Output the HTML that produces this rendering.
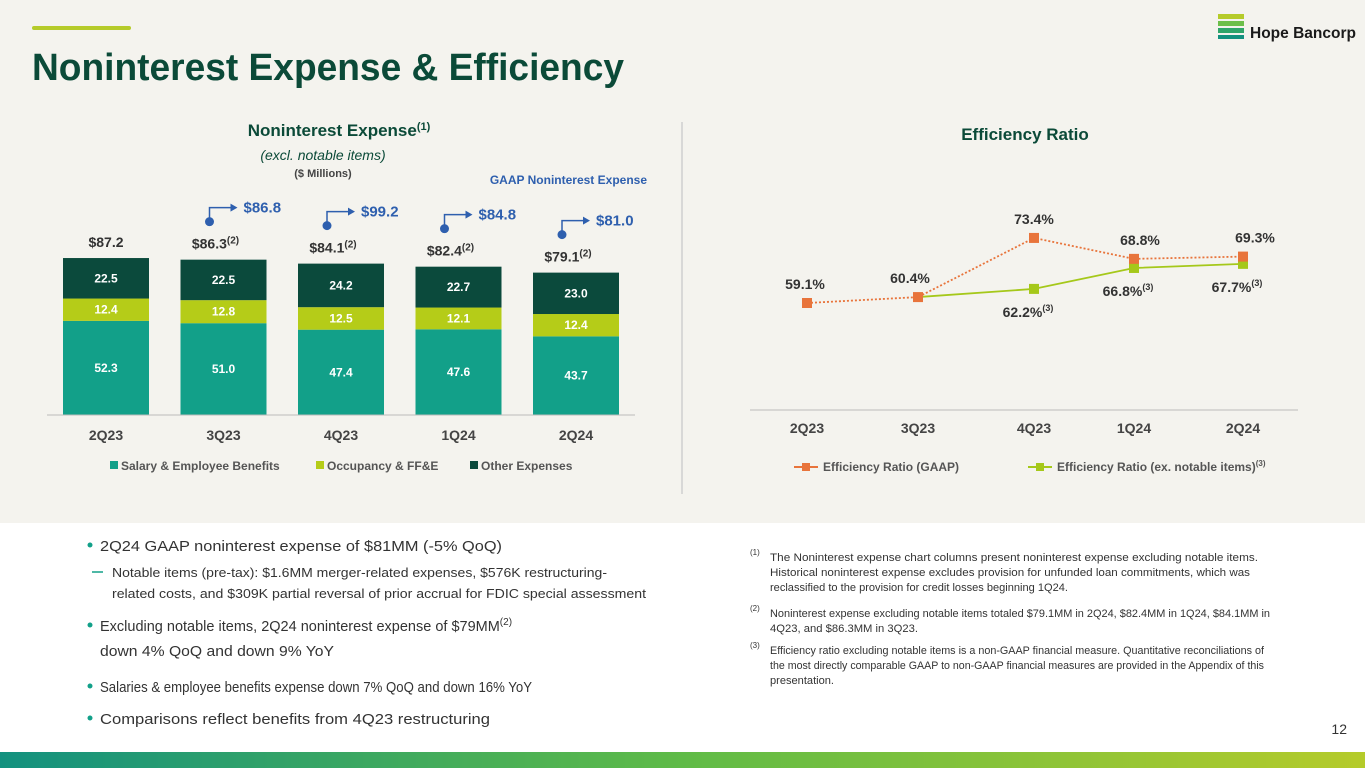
<!DOCTYPE html>
<html><head><meta charset="utf-8"><style>
body{margin:0;width:1365px;height:768px;overflow:hidden;background:#f4f3ee;font-family:"Liberation Sans",sans-serif}
svg{display:block}
text{font-family:"Liberation Sans",sans-serif}
</style></head><body>
<svg id="s" width="1365" height="768" viewBox="0 0 1365 768">
<defs><linearGradient id="fg" x1="0" x2="1"><stop offset="0" stop-color="#13917f"/><stop offset="0.5" stop-color="#5fbb47"/><stop offset="1" stop-color="#b5cb2a"/></linearGradient></defs>
<rect x="0" y="523" width="1365" height="230" fill="#ffffff"/>
<rect x="0" y="752" width="1365" height="16" fill="url(#fg)"/>
<rect x="32" y="26" width="99" height="4" rx="2" fill="#b5cb2a"/>
<text x="32" y="80" font-size="38" font-weight="bold" fill="#0b4a38" textLength="592" lengthAdjust="spacingAndGlyphs">Noninterest Expense &amp; Efficiency</text>
<g>
<rect x="1218" y="14" width="26" height="5" fill="#b5cb2a"/><rect x="1218" y="21" width="26" height="5" fill="#6cbf4a"/><rect x="1218" y="28" width="26" height="5" fill="#2fa56a"/><rect x="1218" y="35" width="26" height="4" fill="#13917f"/>
<text x="1250" y="38" font-size="16" font-weight="bold" fill="#1a1a1a" textLength="106" lengthAdjust="spacingAndGlyphs">Hope Bancorp</text></g>
<line x1="682" y1="122" x2="682" y2="494" stroke="#cfcfcf" stroke-width="1.5"/>
<text x="339" y="136" font-size="17" font-weight="bold" fill="#0b4a38" text-anchor="middle">Noninterest Expense<tspan font-size="11" dy="-6">(1)</tspan></text>
<text x="323" y="160" font-size="14" font-style="italic" fill="#0b4a38" text-anchor="middle">(excl. notable items)</text>
<text x="323" y="177" font-size="11" font-weight="bold" fill="#444" text-anchor="middle">($ Millions)</text>
<text x="647" y="184" font-size="12" font-weight="bold" fill="#2e5fae" text-anchor="end">GAAP Noninterest Expense</text>
<g id="bars"></g>
<line x1="47" y1="415" x2="635" y2="415" stroke="#bbb"/>
<g id="barLegend" font-size="12" font-weight="bold" fill="#555">
<rect x="110" y="461" width="8" height="8" fill="#12a089"/><text x="121" y="470">Salary &amp; Employee Benefits</text>
<rect x="316" y="461" width="8" height="8" fill="#b5cc18"/><text x="327" y="470">Occupancy &amp; FF&amp;E</text>
<rect x="470" y="461" width="8" height="8" fill="#0b4a3c"/><text x="481" y="470">Other Expenses</text></g>
<text x="1025" y="140" font-size="17" font-weight="bold" fill="#0b4a38" text-anchor="middle">Efficiency Ratio</text>
<line x1="750" y1="410" x2="1298" y2="410" stroke="#bbb"/>
<g id="lines"></g>
<g font-size="12" font-weight="bold" fill="#555">
<line x1="794" y1="467" x2="818" y2="467" stroke="#e8743b" stroke-width="2"/><rect x="802" y="463" width="8" height="8" fill="#e8743b"/>
<text x="823" y="471">Efficiency Ratio (GAAP)</text>
<line x1="1028" y1="467" x2="1052" y2="467" stroke="#a5c81a" stroke-width="2"/><rect x="1036" y="463" width="8" height="8" fill="#a5c81a"/>
<text x="1057" y="471">Efficiency Ratio (ex. notable items)<tspan font-size="8" dy="-5">(3)</tspan></text></g>
<g font-size="15" fill="#333">
<circle cx="90" cy="545" r="2.5" fill="#12a089"/><text x="100" y="551" textLength="402" lengthAdjust="spacingAndGlyphs">2Q24 GAAP noninterest expense of $81MM (-5% QoQ)</text>
<line x1="92" y1="572" x2="103" y2="572" stroke="#12a089" stroke-width="1.5"/>
<text x="112" y="577" font-size="13" textLength="495" lengthAdjust="spacingAndGlyphs">Notable items (pre-tax): $1.6MM merger-related expenses, $576K restructuring-</text>
<text x="112" y="598" font-size="13" textLength="534" lengthAdjust="spacingAndGlyphs">related costs, and $309K partial reversal of prior accrual for FDIC special assessment</text>
<circle cx="90" cy="625" r="2.5" fill="#12a089"/><text x="100" y="631" font-size="14.5">Excluding notable items, 2Q24 noninterest expense of $79MM<tspan font-size="10" dy="-6">(2)</tspan></text>
<text x="100" y="656" textLength="234" lengthAdjust="spacingAndGlyphs">down 4% QoQ and down 9% YoY</text>
<circle cx="90" cy="686" r="2.5" fill="#12a089"/><text x="100" y="692" textLength="432" lengthAdjust="spacingAndGlyphs">Salaries &amp; employee benefits expense down 7% QoQ and down 16% YoY</text>
<circle cx="90" cy="718" r="2.5" fill="#12a089"/><text x="100" y="724" textLength="390" lengthAdjust="spacingAndGlyphs">Comparisons reflect benefits from 4Q23 restructuring</text></g>
<g font-size="11" fill="#333">
<text x="750" y="555" font-size="8">(1)</text><text x="770" y="561" textLength="488" lengthAdjust="spacingAndGlyphs">The Noninterest expense chart columns present noninterest expense excluding notable items.</text>
<text x="770" y="576" textLength="480" lengthAdjust="spacingAndGlyphs">Historical noninterest expense excludes provision for unfunded loan commitments, which was</text>
<text x="770" y="591" textLength="298" lengthAdjust="spacingAndGlyphs">reclassified to the provision for credit losses beginning 1Q24.</text>
<text x="750" y="611" font-size="8">(2)</text><text x="770" y="617" textLength="500" lengthAdjust="spacingAndGlyphs">Noninterest expense excluding notable items totaled $79.1MM in 2Q24, $82.4MM in 1Q24, $84.1MM in</text>
<text x="770" y="632" textLength="148" lengthAdjust="spacingAndGlyphs">4Q23, and $86.3MM in 3Q23.</text>
<text x="750" y="648" font-size="8">(3)</text><text x="770" y="654" textLength="494" lengthAdjust="spacingAndGlyphs">Efficiency ratio excluding notable items is a non-GAAP financial measure. Quantitative reconciliations of</text>
<text x="770" y="669" textLength="494" lengthAdjust="spacingAndGlyphs">the most directly comparable GAAP to non-GAAP financial measures are provided in the Appendix of this</text>
<text x="770" y="684" textLength="64" lengthAdjust="spacingAndGlyphs">presentation.</text></g>
<text x="1347" y="734" font-size="14" fill="#333" text-anchor="end">12</text>
</svg>
<script>
const NS="http://www.w3.org/2000/svg";
const quarters=["2Q23","3Q23","4Q23","1Q24","2Q24"];
const salary=[52.3,51.0,47.4,47.6,43.7];
const occupancy=[12.4,12.8,12.5,12.1,12.4];
const other=[22.5,22.5,24.2,22.7,23.0];
const totals=["$87.2","$86.3","$84.1","$82.4","$79.1"];
const totalNote=[false,true,true,true,true];
const gaapExp=[null,"$86.8","$99.2","$84.8","$81.0"];
const effGaap=[59.1,60.4,73.4,68.8,69.3];
const effAdj=[null,60.4,62.2,66.8,67.7];

function el(t,a,p){const e=document.createElementNS(NS,t);for(const k in a)e.setAttribute(k,a[k]);p.appendChild(e);return e;}
const bx=i=>106+i*117.5, by=v=>415-v*1.8, bw=86;
const g=document.getElementById('bars');
quarters.forEach((q,i)=>{
  let base=0;
  [[salary,"#12a089","salary"],[occupancy,"#b5cc18","occupancy"],[other,"#0b4a3c","other"]].forEach(([arr,c,n])=>{
    const v=arr[i];
    const r=el('rect',{x:bx(i)-bw/2,y:by(base+v),width:bw,height:v*1.8,fill:c},g);
    
    
    const t=el('text',{x:bx(i),y:by(base+v/2)+4,'font-size':12,'font-weight':'bold',fill:'#fff','text-anchor':'middle'},g);
    t.textContent=v.toFixed(1);
    
    
    base+=v;
  });
  const tot=salary[i]+occupancy[i]+other[i];
  const tt=el('text',{x:bx(i)-(totalNote[i]?8:0),y:by(tot)-11,'font-size':14,'font-weight':'bold',fill:'#333','text-anchor':'middle'},g);
  tt.textContent=totals[i];
  if(totalNote[i]){const s=el('tspan',{'font-size':10,dy:-5},tt);s.textContent='(2)';}
  
  
  const xl=el('text',{x:bx(i),y:440,'font-size':14,'font-weight':'bold',fill:'#444','text-anchor':'middle'},g);
  xl.textContent=q;
  
  
  if(gaapExp[i]){
    const cx=bx(i)-14, cy=by(tot)-38;
    el('circle',{cx:cx,cy:cy,r:4.5,fill:'#2e5fae'},g);
    el('path',{d:`M${cx} ${cy} V${cy-14} H${cx+22}`,stroke:'#2e5fae','stroke-width':1.5,fill:'none'},g);
    el('path',{d:`M${cx+28} ${cy-14} l-7 -4 v8z`,fill:'#2e5fae'},g);
    const gt=el('text',{x:cx+34,y:cy-9,'font-size':15,'font-weight':'bold',fill:'#2e5fae'},g);
    gt.textContent=gaapExp[i];
    
    
  }
});
const lg=document.getElementById('lines');
const lx=i=>[807,918,1034,1134,1243][i], ly=v=>303-(v-59.1)*4.55;
quarters.forEach((q,i)=>{
  const t=el('text',{x:lx(i),y:433,'font-size':14,'font-weight':'bold',fill:'#444','text-anchor':'middle'},lg);
  t.textContent=q;
  
  
});
function series(arr,c,dash,name,skipMarkerIdx){
  const pts=arr.map((v,i)=>v==null?null:[lx(i),ly(v),i]).filter(p=>p);
  const pl=el('polyline',{points:pts.map(p=>p[0]+','+p[1]).join(' '),fill:'none',stroke:c,'stroke-width':1.8,'stroke-dasharray':dash},lg);
  
  
  pts.forEach(p=>{ if(p[2]===skipMarkerIdx) return;
    const m=el('rect',{x:p[0]-5,y:p[1]-5,width:10,height:10,fill:c},lg);
    
    });
}
series(effAdj,'#a5c81a','none','adj',1);
series(effGaap,'#e8743b','2,2','gaap',-1);
effGaap.forEach((v,i)=>{
  const dx=[-2,-8,0,6,12][i];
  const t=el('text',{x:lx(i)+dx,y:ly(v)-14,'font-size':14,'font-weight':'bold',fill:'#333','text-anchor':'middle'},lg);
  t.textContent=v.toFixed(1)+'%';
  
  
});
effAdj.forEach((v,i)=>{
  if(v==null||i<2)return;
  const t=el('text',{x:lx(i)-6,y:ly(v)+28,'font-size':14,'font-weight':'bold',fill:'#333','text-anchor':'middle'},lg);
  t.textContent=v.toFixed(1)+'%';
  const s=el('tspan',{'font-size':9,dy:-6},t);s.textContent='(3)';
  
  
});
</script>
</body></html>
